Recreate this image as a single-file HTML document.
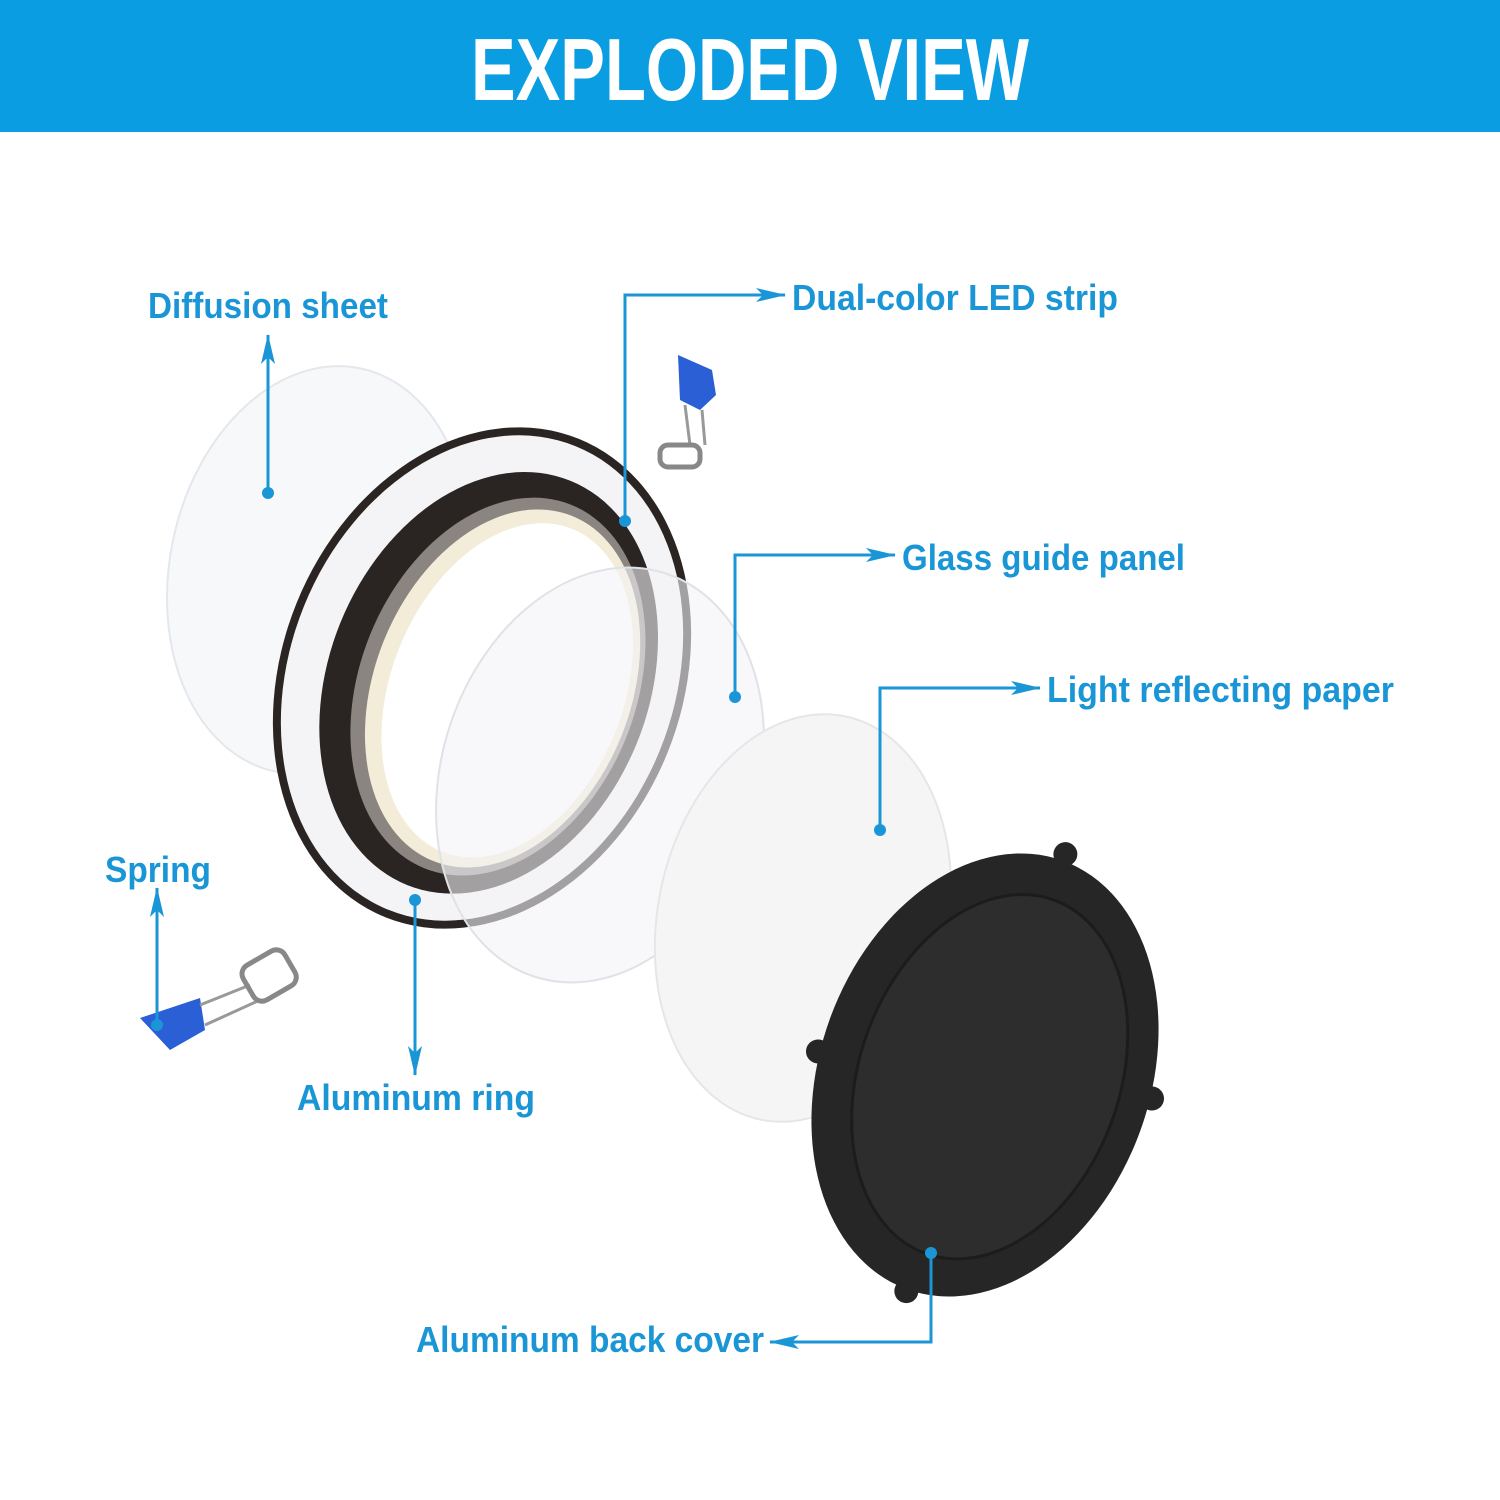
<!DOCTYPE html>
<html><head><meta charset="utf-8"><style>
html,body{margin:0;padding:0;background:#fff;width:1500px;height:1500px;overflow:hidden}
svg{display:block}
text{font-family:"Liberation Sans",sans-serif;font-weight:bold}
</style></head><body>
<svg width="1500" height="1500" viewBox="0 0 1500 1500" xmlns="http://www.w3.org/2000/svg">
<defs>
<marker id="ah" viewBox="0 0 30 14" refX="29" refY="7" markerWidth="30" markerHeight="14" markerUnits="userSpaceOnUse" orient="auto">
<path d="M0,0 L30,7 L0,14 L7,7 Z" fill="#1a96d6"/></marker>
</defs>
<rect x="0" y="0" width="1500" height="132" fill="#0b9de2"/>
<text x="750" y="100" text-anchor="middle" fill="#fff" font-size="88" textLength="558" lengthAdjust="spacingAndGlyphs">EXPLODED VIEW</text>

<ellipse cx="318" cy="570" rx="148" ry="206" transform="rotate(12 318 570)" fill="#f7f8fa" stroke="#e4e7eb" stroke-width="2"/>
<g transform="rotate(22 482 678)">
<ellipse cx="482" cy="678" rx="200" ry="258" fill="#2a2422"/>
<ellipse cx="482" cy="678" rx="192" ry="250" fill="#f4f4f6"/>
<ellipse cx="490" cy="680" rx="160" ry="218" fill="#2a2422"/>
<ellipse cx="500" cy="680" rx="138" ry="196" fill="#8a8580"/>
<ellipse cx="505" cy="680" rx="128" ry="186" fill="#f3ecd8"/>
<ellipse cx="510" cy="680" rx="116" ry="174" fill="#fff"/>
</g>
<ellipse cx="600" cy="775" rx="158" ry="212" transform="rotate(18 600 775)" fill="#f3f4f6" fill-opacity="0.6" stroke="#dfe2e6" stroke-width="2"/>
<ellipse cx="803" cy="918" rx="145" ry="206" transform="rotate(12 803 918)" fill="#f5f5f6" stroke="#e6e6e8" stroke-width="2"/>
<g transform="rotate(20 985 1075)">
<circle cx="985" cy="840" r="12" fill="#262626"/>
<circle cx="1150" cy="1040" r="12" fill="#262626"/>
<circle cx="820" cy="1110" r="12" fill="#262626"/>
<circle cx="985" cy="1305" r="12" fill="#262626"/>
<ellipse cx="985" cy="1075" rx="165" ry="228" fill="#262626"/>
<ellipse cx="990" cy="1075" rx="130" ry="188" fill="#2d2d2d" stroke="#1c1c1c" stroke-width="3"/>
</g>
<path d="M678,355 L712,370 L716,395 L700,410 L680,400 Z" fill="#2a5fd6"/>
<path d="M685,405 L690,445 M702,410 L705,445" stroke="#999" stroke-width="3"/>
<rect x="660" y="445" width="40" height="22" rx="8" fill="none" stroke="#888" stroke-width="5"/>
<path d="M140,1018 L200,998 L205,1030 L170,1050 Z" fill="#2a5fd6"/>
<path d="M200,1005 L250,985 M205,1025 L260,1000" stroke="#999" stroke-width="3"/>
<rect x="245" y="955" width="48" height="40" rx="10" fill="none" stroke="#888" stroke-width="5" transform="rotate(-30 270 975)"/>

<g stroke="#1a96d6" stroke-width="3" fill="none">
<path d="M268,493 V335" marker-end="url(#ah)"/>
<path d="M625,521 V295 H785" marker-end="url(#ah)"/>
<path d="M735,697 V555 H895" marker-end="url(#ah)"/>
<path d="M880,830 V688 H1040" marker-end="url(#ah)"/>
<path d="M157,1025 V888" marker-end="url(#ah)"/>
<path d="M415,900 V1075" marker-end="url(#ah)"/>
<path d="M931,1253 V1342 H770" marker-end="url(#ah)"/>
</g>
<g fill="#1a96d6">
<circle cx="268" cy="493" r="6"/><circle cx="625" cy="521" r="6"/><circle cx="735" cy="697" r="6"/>
<circle cx="880" cy="830" r="6"/><circle cx="157" cy="1025" r="6"/><circle cx="415" cy="900" r="6"/><circle cx="931" cy="1253" r="6"/>
</g>
<g fill="#1a96d6" font-size="36">
<text x="148" y="318" textLength="240" lengthAdjust="spacingAndGlyphs">Diffusion sheet</text>
<text x="792" y="310" textLength="326" lengthAdjust="spacingAndGlyphs">Dual-color LED strip</text>
<text x="902" y="570" textLength="283" lengthAdjust="spacingAndGlyphs">Glass guide panel</text>
<text x="1047" y="702" textLength="347" lengthAdjust="spacingAndGlyphs">Light reflecting paper</text>
<text x="105" y="882" textLength="106" lengthAdjust="spacingAndGlyphs">Spring</text>
<text x="297" y="1110" textLength="238" lengthAdjust="spacingAndGlyphs">Aluminum ring</text>
<text x="416" y="1352" textLength="348" lengthAdjust="spacingAndGlyphs">Aluminum back cover</text>
</g>
</svg>
</body></html>
